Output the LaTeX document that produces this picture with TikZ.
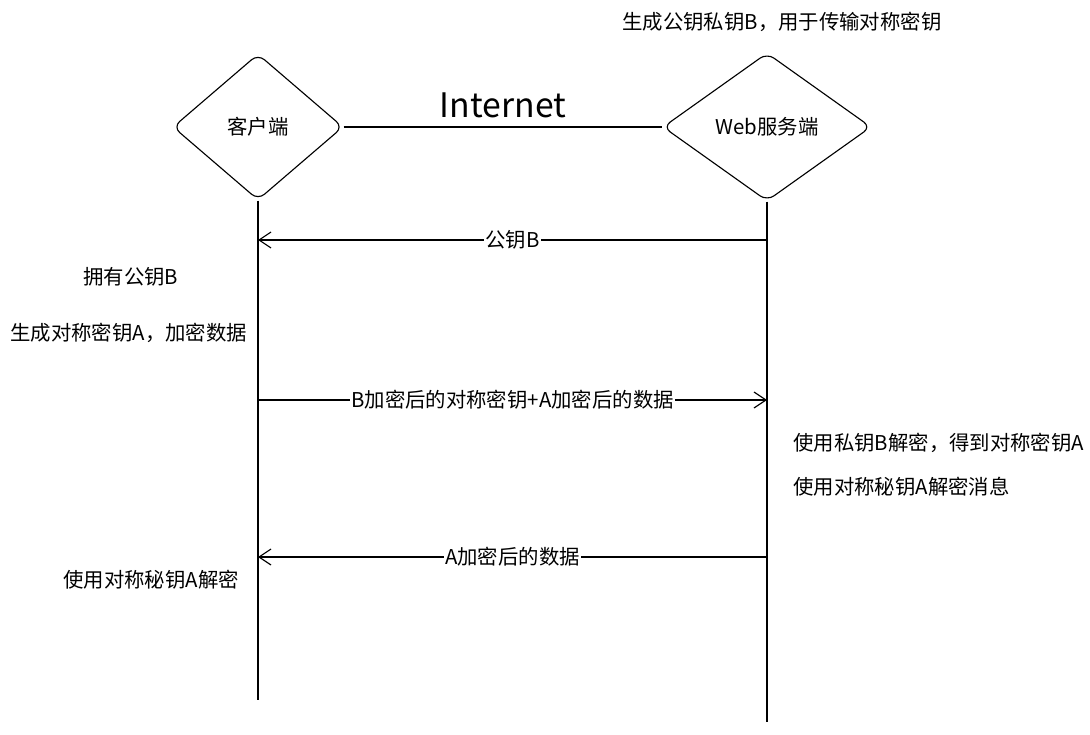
\documentclass[tikz,border=0pt]{standalone}
\usepackage{fontspec}
\setmainfont{Noto Sans CJK SC}
\usetikzlibrary{positioning, shapes.geometric, arrows.meta}

\begin{document}
\begin{tikzpicture}[x=0.025cm, y=-0.025cm,
  font=\fontsize{14.5}{17}\selectfont,
  peer/.style = {diamond, draw, thick, rounded corners=6pt, aspect=1, inner sep=0pt},
  msg/.style = {thick, -{Straight Barb[length=3mm, width=4mm]}},
  note/.style = {anchor=west, inner sep=0pt},
  lbl/.style = {fill=white, inner sep=1pt}
                    ]
\useasboundingbox (0,0) rectangle (1090,735);
\node (client) [peer, minimum width=4.25cm, minimum height=3.65cm] at (258,127) {客户端};
\node (server) [peer, minimum width=5.2cm, minimum height=3.7cm] at (767,127) {Web服务端};
\coordinate (clientEnd) at (258,700);
\coordinate (serverEnd) at (767,722);
\node (keygen) [note] at (622,22) {生成公钥私钥B，用于传输对称密钥};
% lifelines and link
\draw [thick] (client.south) -- (clientEnd);
\draw [thick] (server.south) -- (serverEnd);
\draw [thick] (client.east) -- (server.west) node[midway, above=3pt, font=\fontsize{24}{28}\selectfont] {Internet};
% messages
\coordinate (s1) at (767,240); \coordinate (c1) at (258,240);
\draw [msg] (s1) -- (c1) node[midway, lbl] {公钥B};
\node (hasB) [note] at (83,277) {拥有公钥B};
\node (genA) [note] at (10,333) {生成对称密钥A，加密数据};
\coordinate (c2) at (258,400); \coordinate (s2) at (767,400);
\draw [msg] (c2) -- (s2) node[midway, lbl] {B加密后的对称密钥+A加密后的数据};
\node (decB) [note] at (793,443) {使用私钥B解密，得到对称密钥A};
\node (decMsg) [note] at (793,487) {使用对称秘钥A解密消息};
\coordinate (s3) at (767,557); \coordinate (c3) at (258,557);
\draw [msg] (s3) -- (c3) node[midway, lbl] {A加密后的数据};
\node (decA) [note] at (63,580) {使用对称秘钥A解密};
\end{tikzpicture}
\end{document}
